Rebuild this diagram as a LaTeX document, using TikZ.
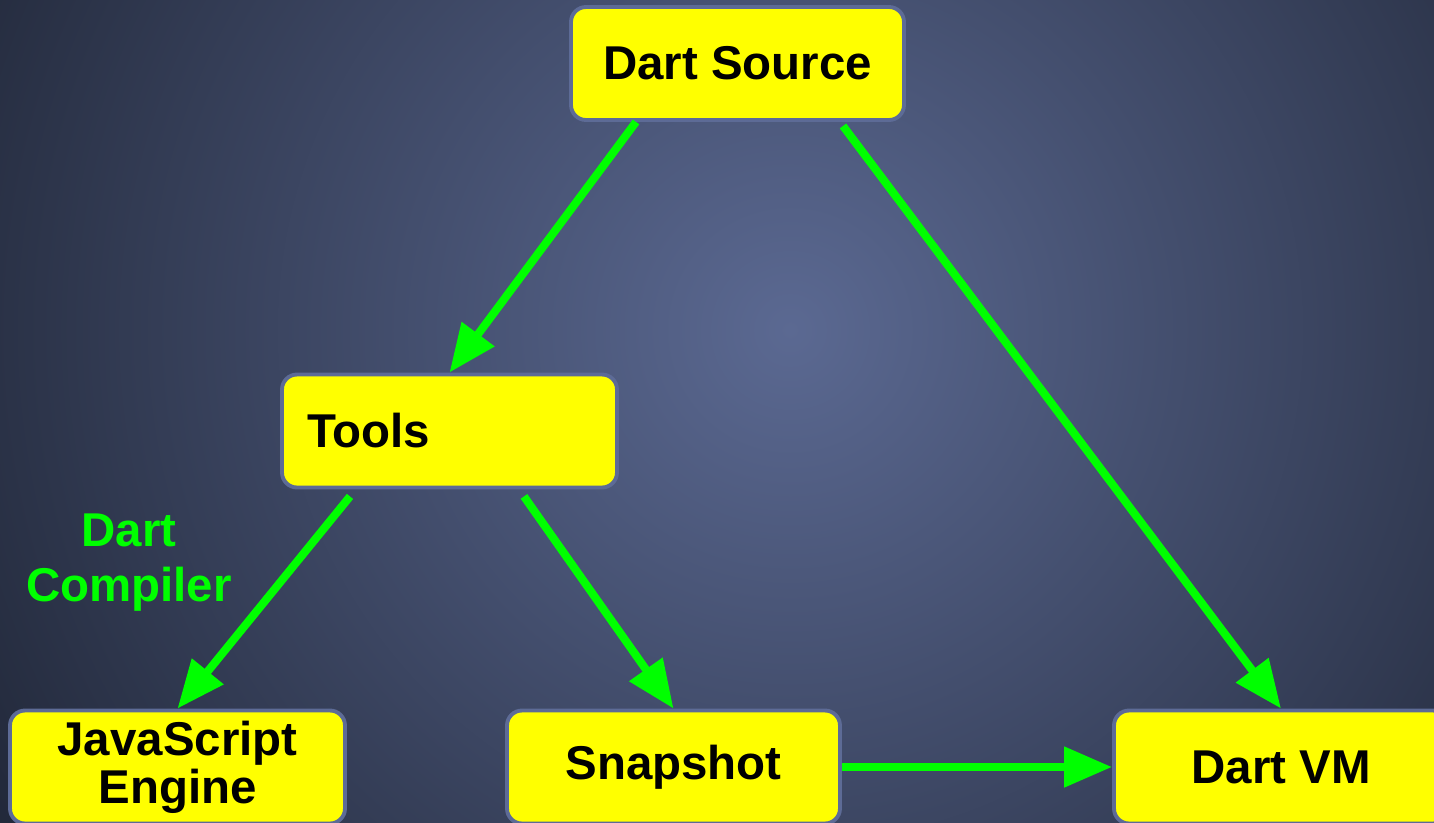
\documentclass[tikz,border=0pt]{standalone}
\usepackage{fontspec}
\setmainfont{Liberation Sans}
\usepackage{tikz}
\usetikzlibrary{arrows.meta}
\definecolor{bgin}{HTML}{5B6992}
\definecolor{bgout}{HTML}{1C2231}
\definecolor{boxfill}{HTML}{FFFF00}
\definecolor{boxline}{HTML}{5D6B96}
\definecolor{flow}{HTML}{00FF00}
\tikzstyle{every node}=[font=\fontsize{27}{28}\selectfont\bfseries]
\tikzstyle{box}=[draw=boxline, fill=boxfill, line width=2.2pt, rounded corners=0.3cm,
    minimum width=6.66cm, minimum height=2.26cm, inner sep=0pt, align=center]
\tikzstyle{flowarrow}=[flow, line width=4.6pt, -{Triangle[length=0.96cm,width=0.78cm]}]

\begin{document}
\begin{tikzpicture}
            \useasboundingbox (0,0) rectangle (28.68,-16.44);
            \begin{scope}
                \clip (0,0) rectangle (28.68,-16.44);
                \shade [inner color=bgin, outer color=bgout] (15.8,-6.6) circle (20.5);
            \end{scope}

            \node [box] (source) at (14.75, -1.27) {Dart Source};
            \node [box, minimum width=6.7cm, text width=5.7cm, align=left] (tools) at (8.99, -8.62) {Tools};
            \node [box, minimum width=6.7cm, font=\fontsize{27}{27.5}\selectfont\bfseries] (engine) at (3.55, -15.34) {JavaScript\\Engine};
            \node [box] (snapshot) at (13.47, -15.34) {Snapshot};
            \node [box, minimum width=6.68cm] (vm) at (25.62, -15.34) {Dart VM};

            \node [flow, align=center, font=\fontsize{27}{31}\selectfont\bfseries] (compiler) at (2.58, -11.25) {Dart\\Compiler};

            \draw [flowarrow] ([xshift=-2.03cm]source.south) -- (tools.north);
            \draw [flowarrow] ([xshift=2.11cm, yshift=-0.08cm]source.south) -- (vm.north);
            \draw [flowarrow] ([xshift=-1.99cm, yshift=-0.14cm]tools.south) -- (engine.north);
            \draw [flowarrow] ([xshift=1.49cm, yshift=-0.14cm]tools.south) -- (snapshot.north);
            \draw [flowarrow] (snapshot.east) -- (vm.west);
        \end{tikzpicture}
\end{document}
